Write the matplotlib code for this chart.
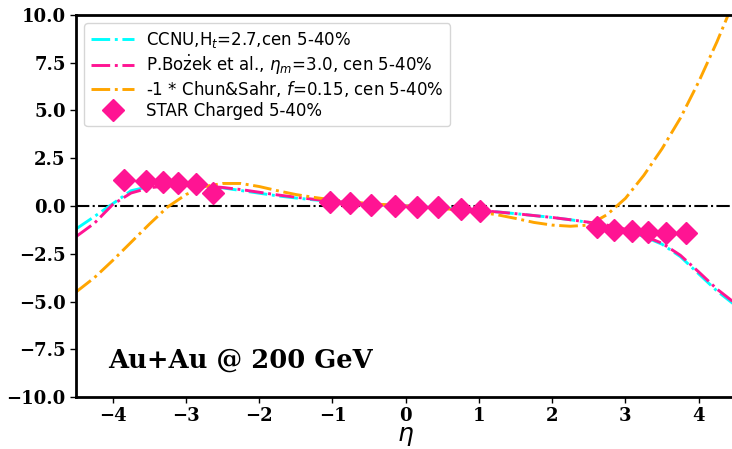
import numpy as np
import matplotlib
matplotlib.use('Agg')
import matplotlib.pyplot as plt

# model curves, eta grid shared by all three
eta = [-4.5, -4.25, -4.0, -3.75, -3.5, -3.25, -3.0, -2.75, -2.5, -2.25,
       -2.0, -1.75, -1.5, -1.25, -1.0, -0.75, -0.5, -0.25, 0.0, 0.25,
       0.5, 0.75, 1.0, 1.25, 1.5, 1.75, 2.0, 2.25, 2.5, 2.75,
       3.0, 3.25, 3.5, 3.75, 4.0, 4.25, 4.5]
ccnu = [-1.2, -0.55, 0.12, 0.8, 1.02, 1.08, 1.08, 1.03, 0.95, 0.81,
        0.67, 0.53, 0.42, 0.32, 0.24, 0.16, 0.1, 0.04, 0.0, -0.05,
        -0.1, -0.16, -0.23, -0.31, -0.4, -0.5, -0.6, -0.72, -0.86, -1.02,
        -1.25, -1.6, -2.0, -2.65, -3.55, -4.45, -5.2]
bozek = [-1.6, -0.9, 0.08, 0.68, 0.95, 1.07, 1.08, 1.05, 0.97, 0.86,
         0.72, 0.58, 0.46, 0.35, 0.25, 0.17, 0.1, 0.04, 0.0, -0.05,
         -0.1, -0.16, -0.23, -0.31, -0.4, -0.5, -0.6, -0.72, -0.85, -1.0,
         -1.22, -1.56, -1.95, -2.58, -3.45, -4.35, -5.1]
chun_sahr = [-4.5, -3.75, -2.85, -1.9, -0.95, -0.05, 0.6, 1.02, 1.18, 1.18,
             1.02, 0.8, 0.6, 0.45, 0.32, 0.22, 0.13, 0.06, 0.0, -0.06,
             -0.13, -0.22, -0.32, -0.46, -0.65, -0.86, -1.0, -1.06, -1.0, -0.45,
             0.4, 1.6, 3.0, 4.6, 6.5, 8.6, 10.9]

# STAR charged particles, 5-40%
star_eta = [-3.84, -3.55, -3.31, -3.11, -2.86, -2.63,
            -1.03, -0.76, -0.47, -0.15, 0.15, 0.44, 0.75, 1.02,
            2.61, 2.85, 3.09, 3.31, 3.55, 3.83]
star_val = [1.36, 1.31, 1.27, 1.22, 1.14, 0.66,
            0.23, 0.17, 0.05, 0.0, -0.04, -0.07, -0.17, -0.25,
            -1.08, -1.26, -1.29, -1.34, -1.43, -1.43]
star_err = [0.05] * len(star_val)

fig = plt.figure(figsize=(7.32, 4.49), dpi=100)
ax = fig.add_axes([0.104, 0.1158, 0.9005, 0.8508])

ax.axhline(0, color='black', linestyle='-.', linewidth=1.5, zorder=1)
ax.plot(eta, ccnu, color='cyan', linestyle='-.', linewidth=2.1,
        label=r'CCNU,H$_t$=2.7,cen 5-40%')
ax.plot(eta, bozek, color='deeppink', linestyle='-.', linewidth=2.1,
        label=r'P.Bo$\dot{\rm z}$ek et al., $\eta_m$=3.0, cen 5-40%')
ax.plot(eta, chun_sahr, color='orange', linestyle='-.', linewidth=2.1,
        label=r'-1 * Chun&Sahr, $f$=0.15, cen 5-40%')
ax.errorbar(star_eta, star_val, yerr=star_err, fmt='D', color='deeppink',
            markersize=11, linewidth=1.5, zorder=5, label='STAR Charged 5-40%')

ax.set_xlim(-4.5, 4.5)
ax.set_ylim(-10, 10)
ax.set_xticks(np.arange(-4, 5, 1))
ax.set_yticks(np.arange(-10, 10.1, 2.5))
for lab in ax.get_xticklabels() + ax.get_yticklabels():
    lab.set_family('DejaVu Serif')
    lab.set_fontweight('bold')
    lab.set_fontsize(13)
for s in ax.spines.values():
    s.set_linewidth(2)
ax.tick_params(length=4, width=1)
ax.set_xlabel(r'$\eta$', fontsize=18, labelpad=-1)

ax.text(0.048, 0.076, 'Au+Au @ 200 GeV', transform=ax.transAxes,
        family='DejaVu Serif', fontweight='bold', fontsize=18.5, va='baseline')

ax.legend(loc='upper left', fontsize=12, handlelength=2.6, handletextpad=0.7,
          labelspacing=0.15, borderpad=0.4)

fig.savefig('out.png', dpi=100)
